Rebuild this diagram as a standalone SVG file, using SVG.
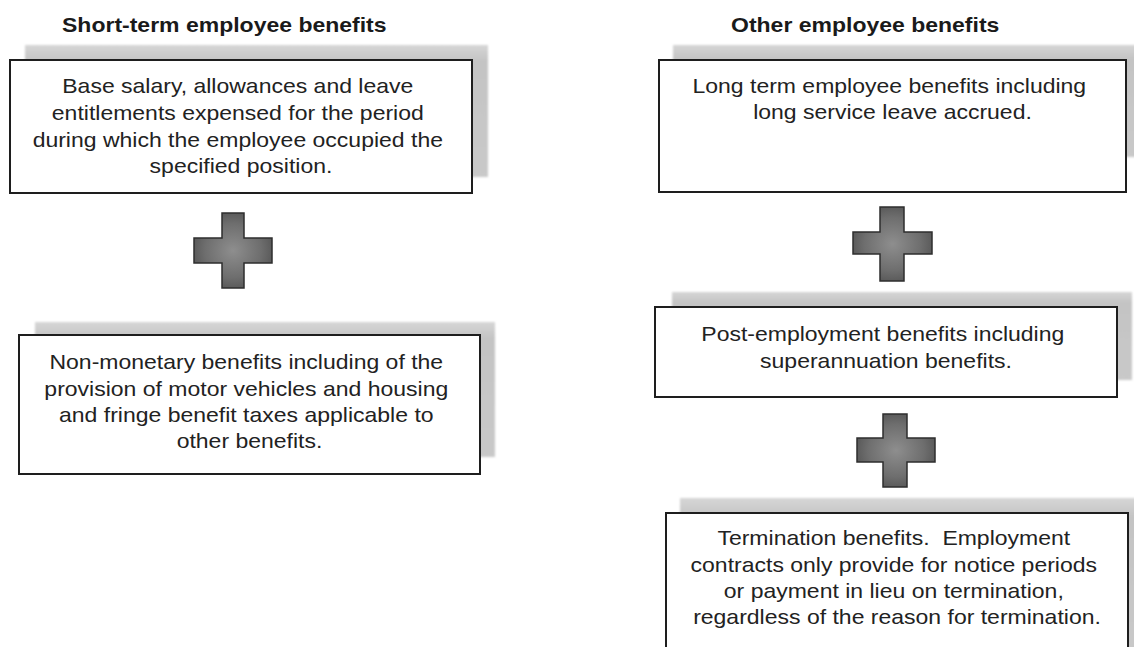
<svg xmlns="http://www.w3.org/2000/svg" width="1134" height="647" viewBox="0 0 1134 647">
  <defs>
    <linearGradient id="shadeGrad" x1="0" y1="0" x2="0" y2="1">
      <stop offset="0" stop-color="#d6d6d6"/>
      <stop offset="0.12" stop-color="#c4c4c4"/>
      <stop offset="1" stop-color="#c9c9c9"/>
    </linearGradient>
    <radialGradient id="plusGrad" cx="0.5" cy="0.5" r="0.6">
      <stop offset="0" stop-color="#8e8e8e"/>
      <stop offset="0.6" stop-color="#6e6e6e"/>
      <stop offset="1" stop-color="#4e4e4e"/>
    </radialGradient>
    <filter id="soft" x="-5%" y="-20%" width="110%" height="140%">
      <feGaussianBlur stdDeviation="0.8"/>
    </filter>
  </defs>
  <style>
    .shade { fill: url(#shadeGrad); filter: url(#soft); }
    .box { fill: #ffffff; stroke: #1e1e1e; stroke-width: 2; }
    .title { font-family: "Liberation Sans", Arial, sans-serif; font-size: 20px; font-weight: bold; fill: #1a1a1a; }
    .body { font-family: "Liberation Sans", Arial, sans-serif; font-size: 20px; fill: #222222; text-anchor: middle; }
    .plus { fill: url(#plusGrad); stroke: #2e2e2e; stroke-width: 1.5; stroke-linejoin: miter; }
  </style>

  <rect width="1134" height="647" fill="#ffffff"/>

  <!-- column headings -->
  <text class="title" transform="translate(62 0) scale(1.15 1)" x="0" y="32">Short-term employee benefits</text>
  <text class="title" transform="translate(731 0) scale(1.15 1)" x="0" y="32">Other employee benefits</text>

  <!-- short-term: salary and leave -->
  <g id="node-base-salary">
    <rect class="shade" x="25" y="45" width="463" height="132"/>
    <rect class="box" x="10" y="60" width="462" height="133"/>
    <text class="body" transform="translate(241 0) scale(1.15 1)">
      <tspan x="0" y="93">Base salary, allowances and leave</tspan>
      <tspan x="0" y="120">entitlements expensed for the period</tspan>
      <tspan x="0" y="147">during which the employee occupied the</tspan>
      <tspan x="0" y="173">specified position.</tspan>
    </text>
  </g>

  <!-- short-term: non-monetary -->
  <g id="node-non-monetary">
    <rect class="shade" x="35" y="322" width="460" height="135"/>
    <rect class="box" x="19" y="335" width="461" height="139"/>
    <text class="body" transform="translate(249.5 0) scale(1.15 1)">
      <tspan x="0" y="369">Non-monetary benefits including of the</tspan>
      <tspan x="0" y="396">provision of motor vehicles and housing</tspan>
      <tspan x="0" y="422">and fringe benefit taxes applicable to</tspan>
      <tspan x="0" y="448">other benefits.</tspan>
    </text>
  </g>

  <!-- other: long term -->
  <g id="node-long-term">
    <rect class="shade" x="673" y="45" width="470" height="112"/>
    <rect class="box" x="659" y="60" width="467" height="132"/>
    <text class="body" transform="translate(892.5 0) scale(1.15 1)">
      <tspan x="0" y="93">Long term employee benefits including</tspan>
      <tspan x="0" y="119">long service leave accrued.</tspan>
    </text>
  </g>

  <!-- other: post-employment -->
  <g id="node-post-employment">
    <rect class="shade" x="672" y="292" width="460" height="88"/>
    <rect class="box" x="655" y="307" width="462" height="90"/>
    <text class="body" transform="translate(886 0) scale(1.15 1)">
      <tspan x="0" y="341">Post-employment benefits including</tspan>
      <tspan x="0" y="368">superannuation benefits.</tspan>
    </text>
  </g>

  <!-- other: termination -->
  <g id="node-termination">
    <rect class="shade" x="680" y="498" width="470" height="160"/>
    <rect class="box" x="666" y="513" width="462" height="140"/>
    <text class="body" transform="translate(897 0) scale(1.15 1)">
      <tspan x="0" y="545">Termination benefits.&#160; Employment</tspan>
      <tspan x="0" y="572">contracts only provide for notice periods</tspan>
      <tspan x="0" y="598">or payment in lieu on termination,</tspan>
      <tspan x="0" y="624">regardless of the reason for termination.</tspan>
    </text>
  </g>

  <!-- plus signs joining the boxes -->
  <g id="connectors">
    <path class="plus" d="M222 213 H244 V238 H272 V263 H244 V288 H222 V263 H194 V238 H222 Z"/>
    <path class="plus" d="M880 207 H904 V232 H932 V254 H904 V281 H880 V254 H853 V232 H880 Z"/>
    <path class="plus" d="M883 414 H907 V438 H935 V462 H907 V487 H883 V462 H857 V438 H883 Z"/>
  </g>
</svg>
